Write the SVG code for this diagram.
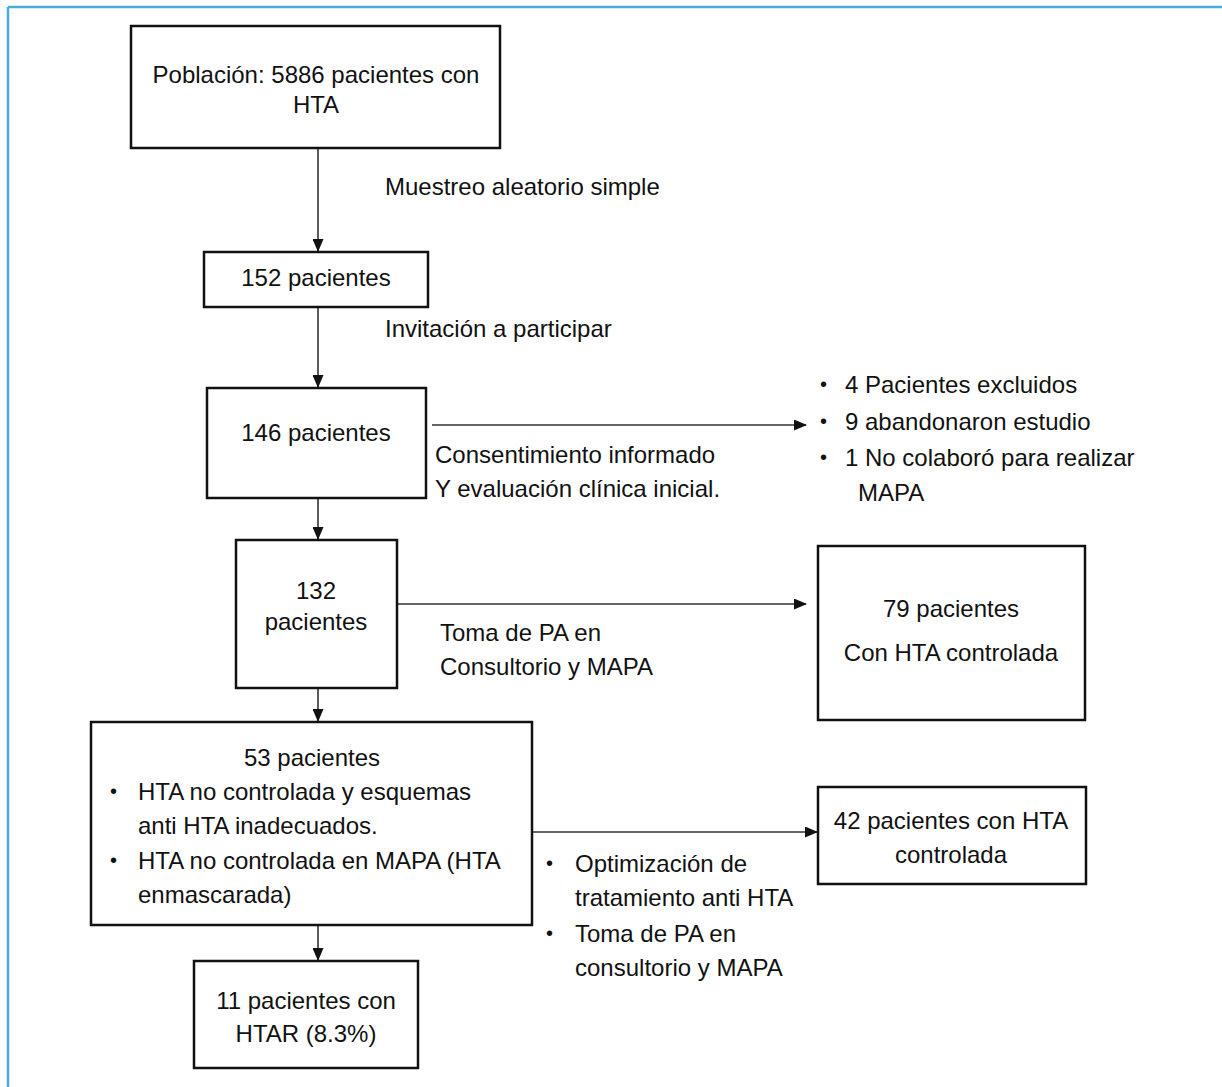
<svg xmlns="http://www.w3.org/2000/svg" width="1222" height="1087" viewBox="0 0 1222 1087">
<defs>
<style>
.box{fill:#fff;stroke:#111;stroke-width:2.5}
.t{font-family:"Liberation Sans",Arial,sans-serif;font-size:24px;fill:#111}
.b{font-family:"Liberation Sans",Arial,sans-serif;font-size:20px;fill:#111}
.c{text-anchor:middle}
.ln{stroke:#333;stroke-width:1.6;fill:none}
</style>
<marker id="ah" markerWidth="13" markerHeight="11" refX="12" refY="5.5" orient="auto" markerUnits="userSpaceOnUse" viewBox="0 0 13 11">
<path d="M0,0 L13,5.5 L0,11 z" fill="#111"/>
</marker>
</defs>
<rect width="1222" height="1087" fill="#fff"/>
<g id="frame">
<line x1="8" y1="7" x2="1222" y2="7" stroke="#4aabdc" stroke-width="2.5"/>
<line x1="8" y1="7" x2="8" y2="1087" stroke="#4aabdc" stroke-width="2.5"/>
</g>
<g id="connectors">
<line class="ln" x1="318" y1="149" x2="318" y2="251" marker-end="url(#ah)"/>
<line class="ln" x1="318" y1="308" x2="318" y2="387" marker-end="url(#ah)"/>
<line class="ln" x1="432" y1="425" x2="806" y2="425" marker-end="url(#ah)"/>
<line class="ln" x1="318" y1="499" x2="318" y2="539" marker-end="url(#ah)"/>
<line class="ln" x1="398" y1="604" x2="806" y2="604" marker-end="url(#ah)"/>
<line class="ln" x1="318" y1="689" x2="318" y2="721" marker-end="url(#ah)"/>
<line class="ln" x1="533" y1="832" x2="817" y2="832" marker-end="url(#ah)"/>
<line class="ln" x1="318" y1="926" x2="318" y2="960" marker-end="url(#ah)"/>
</g>
<g id="labels">
<text class="t" x="385" y="195">Muestreo aleatorio simple</text>
<text class="t" x="385" y="337">Invitación a participar</text>
<text class="t" x="435" y="463">Consentimiento informado</text>
<text class="t" x="435" y="497">Y evaluación clínica inicial.</text>
<text class="t" x="440" y="641">Toma de PA en</text>
<text class="t" x="440" y="675">Consultorio y MAPA</text>
<text class="b" x="546" y="870">•</text>
<text class="t" x="575" y="872">Optimización de</text>
<text class="t" x="575" y="906">tratamiento anti HTA</text>
<text class="b" x="546" y="940">•</text>
<text class="t" x="575" y="942">Toma de PA en</text>
<text class="t" x="575" y="976">consultorio y MAPA</text>
</g>
<g id="n-excluidos">
<text class="b" x="820" y="391">•</text>
<text class="t" x="845" y="393">4 Pacientes excluidos</text>
<text class="b" x="820" y="428">•</text>
<text class="t" x="845" y="430">9 abandonaron estudio</text>
<text class="b" x="820" y="464">•</text>
<text class="t" x="845" y="466">1 No colaboró para realizar</text>
<text class="t" x="858" y="501">MAPA</text>
</g>
<g id="n-poblacion">
<rect class="box" x="131" y="26" width="369" height="122"/>
<text class="t c" x="316" y="83">Población: 5886 pacientes con</text>
<text class="t c" x="316" y="113">HTA</text>
</g>
<g id="n-152">
<rect class="box" x="204" y="252" width="224" height="55"/>
<text class="t c" x="316" y="286">152 pacientes</text>
</g>
<g id="n-146">
<rect class="box" x="207" y="388" width="219" height="110"/>
<text class="t c" x="316" y="441">146 pacientes</text>
</g>
<g id="n-132">
<rect class="box" x="236" y="540" width="161" height="148"/>
<text class="t c" x="316" y="599">132</text>
<text class="t c" x="316" y="630">pacientes</text>
</g>
<g id="n-79">
<rect class="box" x="818" y="546" width="267" height="174"/>
<text class="t c" x="951" y="617">79 pacientes</text>
<text class="t c" x="951" y="661">Con HTA controlada</text>
</g>
<g id="n-53">
<rect class="box" x="91" y="722" width="441" height="203"/>
<text class="t c" x="312" y="766">53 pacientes</text>
<text class="b" x="110" y="798">•</text>
<text class="t" x="138" y="800">HTA no controlada y esquemas</text>
<text class="t" x="138" y="834">anti HTA inadecuados.</text>
<text class="b" x="110" y="867">•</text>
<text class="t" x="138" y="869">HTA no controlada en MAPA (HTA</text>
<text class="t" x="138" y="903">enmascarada)</text>
</g>
<g id="n-42">
<rect class="box" x="818" y="787" width="268" height="97"/>
<text class="t c" x="951" y="829">42 pacientes con HTA</text>
<text class="t c" x="951" y="863">controlada</text>
</g>
<g id="n-11">
<rect class="box" x="194" y="961" width="224" height="107"/>
<text class="t c" x="306" y="1009">11 pacientes con</text>
<text class="t c" x="306" y="1042">HTAR (8.3%)</text>
</g>
</svg>
